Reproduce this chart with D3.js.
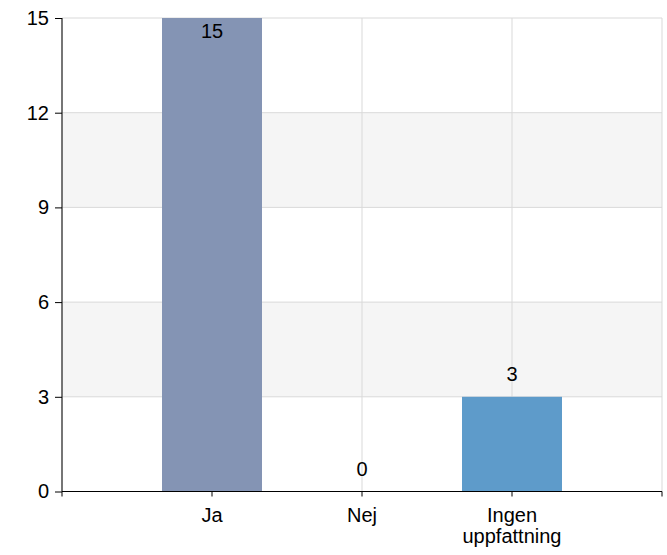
<!DOCTYPE html>
<html><head><meta charset="utf-8">
<script src="https://cdn.jsdelivr.net/npm/d3@7"></script>
<style>body{margin:0;background:#fff}svg{display:block}text{font-family:"Liberation Sans",Arial,sans-serif}</style>
</head><body><svg id="c" width="667" height="555"></svg>
<script>
const categories = ["Ja", "Nej", "Ingen uppfattning"];
const values = [15, 0, 3];
const barColors = ["#8494b4", "#8494b4", "#5e9bca"];
const yTicks = [0, 3, 6, 9, 12, 15];

const svg = d3.select("#c");
const L = 62, R = 662, T = 18, B = 491.5;
const FS = 20;
const x = d3.scalePoint().domain(categories).range([L, R]).padding(1);
const y = d3.scaleLinear().domain([0, 15]).range([B, T]);
const step = x.step();
const bw = step * 2 / 3;

// bands
const g = svg.append("g");
for (let i = 0; i < yTicks.length - 1; i++) {
  if (i % 2 === 1) {
    g.append("rect").attr("x", L).attr("width", R - L)
      .attr("y", y(yTicks[i + 1])).attr("height", y(yTicks[i]) - y(yTicks[i + 1]))
      .attr("fill", "#f5f5f5");
  }
}
// horizontal grid
g.selectAll(".hg").data(yTicks).join("line")
  .attr("x1", L).attr("x2", R).attr("y1", d => y(d)).attr("y2", d => y(d))
  .attr("stroke", "#d9d9d9").attr("stroke-width", 1);
// vertical grid
const vx = [L, ...categories.map(c => x(c)), R];
g.selectAll(".vg").data(vx).join("line")
  .attr("x1", d => d).attr("x2", d => d).attr("y1", T).attr("y2", B)
  .attr("stroke", "#d9d9d9").attr("stroke-width", 1);

// bars
svg.selectAll(".bar").data(categories).join("rect")
  .attr("x", (d) => x(d) - bw / 2).attr("width", bw)
  .attr("y", (d, i) => y(values[i])).attr("height", (d, i) => B - y(values[i]))
  .attr("fill", (d, i) => barColors[i]);

// labels
svg.selectAll(".lbl").data(categories).join("text")
  .attr("x", d => x(d))
  .attr("y", (d, i) => { const yy = y(values[i]) - 15.5; return yy < T + 14 ? y(values[i]) + 20 : yy; })
  .attr("text-anchor", "middle").attr("font-size", FS).attr("fill", "#000")
  .text((d, i) => values[i]);

// y axis
const ya = svg.append("g").attr("transform", `translate(${L},0)`)
  .call(d3.axisLeft(y).tickValues(yTicks).tickSize(7).tickPadding(6));
ya.select(".domain").attr("stroke", "#000").attr("d", `M0,${T}V${B}`);
ya.selectAll(".tick line").attr("stroke", "#000");
ya.selectAll(".tick text").attr("font-size", FS).attr("fill", "#000")
  .attr("font-family", '"Liberation Sans",Arial,sans-serif');

// x axis
const xa = svg.append("g").attr("transform", `translate(0,${B})`);
xa.append("line").attr("x1", L).attr("x2", R).attr("stroke", "#000");
xa.selectAll(".xt").data(vx).join("line")
  .attr("x1", d => d).attr("x2", d => d).attr("y1", 0).attr("y2", 5).attr("stroke", "#000");
xa.selectAll(".xl").data(categories).join("text")
  .attr("x", d => x(d)).attr("y", 30.5).attr("text-anchor", "middle")
  .attr("font-size", FS).attr("fill", "#000")
  .each(function(d) {
    const words = d === "Ingen uppfattning" ? ["Ingen", "uppfattning"] : [d];
    const t = d3.select(this);
    words.forEach((w, i) => t.append("tspan").attr("x", x(d)).attr("dy", i ? 21 : 0).text(w));
  });
</script></body></html>
